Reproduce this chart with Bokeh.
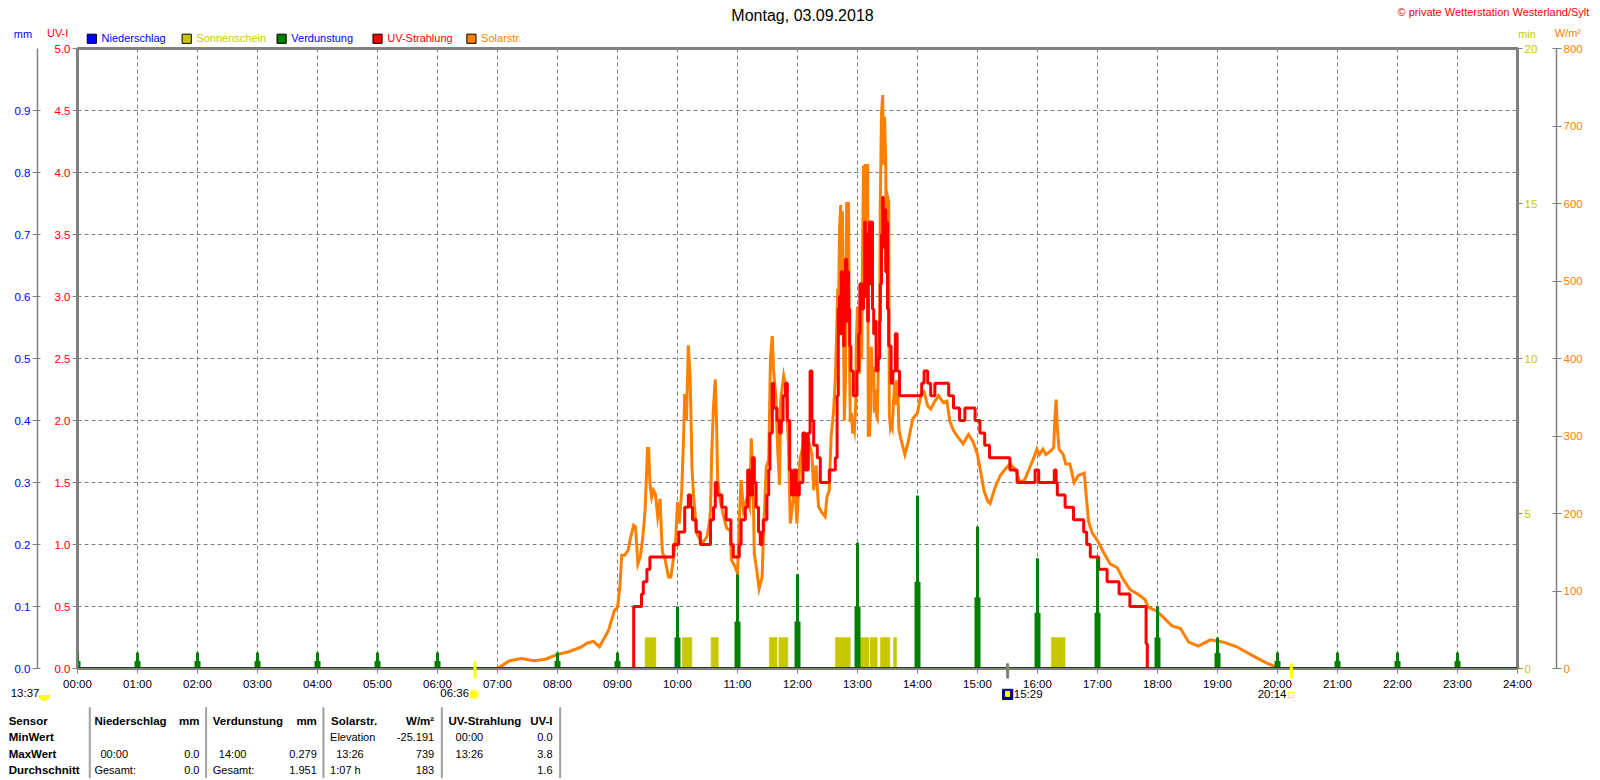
from bokeh.embed import file_html
from bokeh.resources import INLINE
from bokeh.plotting import figure
from bokeh.layouts import column
from bokeh.core.properties import value
from bokeh.models import Range1d, LinearAxis, FixedTicker

# ---------- data ----------
hours = list(range(25))
hour_labels = ["%02d:00" % h for h in hours]

uv_ticks = [0, 0.5, 1, 1.5, 2, 2.5, 3, 3.5, 4, 4.5, 5]
mm_ticks = [0, 0.1, 0.2, 0.3, 0.4, 0.5, 0.6, 0.7, 0.8, 0.9]
min_ticks = [0, 5, 10, 15, 20]
wm2_ticks = [0, 100, 200, 300, 400, 500, 600, 700, 800]

evap_hours = [0, 1, 2, 3, 4, 5, 6, 8, 9, 10, 11, 12, 13, 14, 15, 16, 17, 18, 19, 20, 21, 22, 23]
evap_value = [0.026, 0.026, 0.026, 0.026, 0.026, 0.026, 0.026, 0.026, 0.026, 0.1, 0.152, 0.152,
              0.203, 0.279, 0.229, 0.178, 0.178, 0.1, 0.05, 0.026, 0.026, 0.026, 0.026]
evap_mean = [0.012, 0.012, 0.012, 0.012, 0.012, 0.012, 0.012, 0.012, 0.012, 0.05, 0.076, 0.076,
             0.1, 0.14, 0.115, 0.09, 0.09, 0.05, 0.025, 0.012, 0.012, 0.012, 0.012]

sun_start = [9.46, 10.08, 10.56, 11.53, 11.69, 12.63, 13.02, 13.21, 13.38, 13.6, 16.23]
sun_end = [9.64, 10.24, 10.68, 11.66, 11.84, 12.88, 13.19, 13.33, 13.54, 13.65, 16.46]
sun_min = [1] * 11

rain_hours = [0, 24]
rain_mm = [0, 0]

solar_t_morning = [7.0, 7.1, 7.2, 7.4, 7.6, 7.8, 8.0, 8.2, 8.4, 8.5, 8.6, 8.7, 8.85, 8.95, 9.0, 9.04, 9.07, 9.12, 9.18,
           9.21, 9.27, 9.3, 9.34, 9.38, 9.42, 9.46, 9.5, 9.52, 9.54, 9.57, 9.6, 9.63, 9.67, 9.71, 9.73, 9.75,
           9.79, 9.85, 9.89, 9.93, 9.97, 10.0, 10.03, 10.07, 10.1, 10.12, 10.15, 10.18, 10.21, 10.23, 10.24,
           10.27, 10.32, 10.38, 10.43, 10.49, 10.53, 10.55, 10.57, 10.6, 10.63, 10.65, 10.67, 10.71, 10.77,
           10.82, 10.88, 10.9, 10.96, 11.0, 11.03, 11.06, 11.1, 11.16, 11.2, 11.23, 11.26, 11.28, 11.32,
           11.36, 11.41, 11.43, 11.48, 11.52, 11.55, 11.58, 11.6, 11.64, 11.67, 11.7, 11.72, 11.77, 11.81,
           11.85, 11.88, 11.92, 11.96, 11.99, 12.02, 12.04, 12.1, 12.14, 12.18, 12.24, 12.27, 12.31, 12.35,
           12.4, 12.46, 12.49, 12.53, 12.56, 12.6]
solar_v_morning = [0, 5, 10, 13, 10, 12, 18, 22, 28, 33, 35, 28, 49, 75, 79, 105, 146, 146, 153,
           166, 185, 183, 135, 144, 168, 204, 284, 284, 239, 221, 230, 226, 196, 219, 178, 150,
           142, 118, 118, 140, 166, 215, 187, 228, 295, 354, 320, 417, 376, 307, 260,
           221, 174, 166, 163, 170, 187, 204, 277, 338, 373, 320, 243, 217, 196,
           181, 178, 140, 131, 123, 191, 243, 204, 221, 209, 297, 239, 148, 127,
           103, 118, 166, 260, 269, 402, 429, 385, 350, 282, 237, 346, 378, 363,
           286, 187, 213, 232, 187, 234, 269, 290, 260, 295, 277, 230, 262, 209,
           202, 196, 221, 230, 300, 330]
solar_t_noon = [12.63, 12.65, 12.67, 12.68, 12.7, 12.72, 12.73, 12.75, 12.77, 12.78, 12.8, 12.82, 12.83, 12.85, 12.87,
           12.88, 12.9, 12.92, 12.93, 12.95, 12.97, 12.98, 13.0, 13.02, 13.03, 13.05, 13.07, 13.08, 13.1, 13.12,
           13.13, 13.15, 13.17, 13.18, 13.2, 13.22, 13.23, 13.25, 13.27, 13.28, 13.3, 13.32, 13.33, 13.35, 13.37,
           13.38, 13.4, 13.42, 13.43, 13.45, 13.47, 13.48, 13.5, 13.52, 13.53, 13.55, 13.57, 13.58, 13.6, 13.62,
           13.63, 13.65, 13.67]
solar_v_noon = [372, 424, 490, 440, 566, 598, 480, 590, 415, 320, 372, 602, 500, 602, 372,
           318, 330, 303, 320, 310, 340, 420, 467, 400, 380, 430, 400, 501, 649, 480,
           651, 500, 651, 301, 301, 340, 415, 370, 389, 330, 360, 325, 323, 400, 458,
           600, 716, 740, 650, 712, 656, 520, 609, 602, 329, 310, 315, 312, 345, 368,
           340, 370, 370]
solar_t_after = [13.69, 13.72, 13.79, 13.85, 13.92, 14.0, 14.06, 14.11, 14.17, 14.22,
           14.29, 14.35, 14.43, 14.49, 14.54, 14.6, 14.68, 14.76, 14.85, 14.93, 15.0, 15.06, 15.11, 15.17,
           15.21, 15.29, 15.38, 15.46, 15.54, 15.63, 15.71, 15.79, 15.88, 15.94, 15.99, 16.03, 16.09, 16.14,
           16.21, 16.27, 16.29, 16.31, 16.33, 16.36, 16.43, 16.47, 16.54, 16.61, 16.68, 16.78, 16.81, 16.85,
           16.91, 17.0, 17.1, 17.21, 17.33, 17.43, 17.54, 17.67, 17.79, 17.85, 17.99, 18.1, 18.24, 18.38,
           18.52, 18.68, 18.88, 19.1, 19.32, 19.6, 19.82, 20.0]
solar_v_after = [308, 297, 276, 294, 322, 330, 354, 357, 339, 335,
           345, 352, 343, 345, 319, 307, 298, 290, 302, 292, 276, 251, 229, 216,
           213, 233, 249, 257, 264, 257, 240, 244, 261, 272, 283, 276, 283, 276,
           280, 285, 324, 347, 311, 283, 276, 264, 264, 240, 249, 252, 225, 190,
           175, 165, 150, 135, 130, 115, 102, 96, 89, 79, 74, 66, 55, 52,
           34, 29, 37, 34, 28, 16, 7, 1]

uv_t_morning = [0, 9.24, 9.27, 9.4, 9.43, 9.49, 9.54, 9.93, 10.02, 10.12, 10.18, 10.22, 10.25, 10.31, 10.38, 10.55, 10.57,
        10.6, 10.63, 10.66, 10.74, 10.81, 10.89, 10.93, 11.03, 11.06, 11.13, 11.17, 11.2, 11.25, 11.28, 11.31,
        11.35, 11.38, 11.41, 11.43, 11.49, 11.52, 11.54, 11.58, 11.6, 11.66, 11.7, 11.73, 11.76, 11.8, 11.83,
        11.87, 11.9, 11.94, 11.98, 12.03, 12.09, 12.13, 12.18, 12.21, 12.24, 12.27, 12.33, 12.38, 12.53, 12.6,
        12.63, 12.66, 12.68]
uv_v_morning = [0, 0, 0.5, 0.6, 0.7, 0.8, 0.9, 1.0, 1.1, 1.3, 1.4, 1.3, 1.2, 1.1, 1.0, 1.2, 1.2,
        1.3, 1.5, 1.4, 1.3, 1.2, 1.0, 0.9, 1.0, 1.2, 1.3, 1.6, 1.4, 1.7, 1.5, 1.3,
        1.1, 1.0, 1.1, 1.2, 1.4, 1.6, 1.9, 2.3, 2.1, 2.0, 1.9, 2.0, 2.2, 2.3, 2.0,
        1.6, 1.4, 1.6, 1.4, 1.5, 1.9, 1.6, 1.9, 2.4, 2.0, 1.8, 1.7, 1.5, 1.6, 1.6,
        1.7, 2.2, 2.9]
uv_t_noon = [12.7, 12.72, 12.73, 12.75, 12.77, 12.78, 12.8, 12.82, 12.83, 12.85, 12.87, 12.89, 12.93, 12.99, 13.02,
        13.04, 13.08, 13.1, 13.12, 13.13, 13.15, 13.17, 13.18, 13.2, 13.22, 13.23, 13.25, 13.27, 13.29, 13.31,
        13.34, 13.37, 13.38, 13.4, 13.42, 13.43, 13.45, 13.47, 13.48, 13.5]
uv_v_noon = [3.0, 2.7, 3.2, 2.9, 2.6, 3.0, 3.3, 2.8, 3.2, 2.9, 2.6, 2.4, 2.2, 2.4, 2.7,
        3.1, 2.9, 3.1, 3.6, 3.0, 3.5, 2.8, 3.2, 3.6, 3.1, 3.6, 2.9, 2.7, 2.8, 2.4,
        2.5, 2.8, 3.1, 3.5, 3.8, 3.4, 3.7, 3.2, 3.6, 2.9]
uv_t_after = [13.52, 13.56, 13.59, 13.63, 13.66, 13.7, 13.76, 13.93, 14.07, 14.11, 14.17, 14.22, 14.29, 14.52, 14.6, 14.7,
        14.79, 14.96, 15.04, 15.12, 15.2, 15.54, 15.66, 15.96, 16.02, 16.28, 16.31, 16.33, 16.46, 16.6, 16.77,
        16.82, 16.88, 17.02, 17.16, 17.36, 17.54, 17.81, 17.83]
uv_v_after = [2.6, 2.3, 2.4, 2.7, 2.4, 2.2, 2.2, 2.2, 2.3, 2.4, 2.3, 2.2, 2.3, 2.2, 2.1, 2.0,
        2.1, 2.0, 1.9, 1.8, 1.7, 1.6, 1.5, 1.6, 1.5, 1.6, 1.5, 1.4, 1.3, 1.2, 1.1,
        1.0, 0.9, 0.8, 0.7, 0.6, 0.5, 0.2, 0.0]

legend_names = ["Niederschlag", "Sonnenschein", "Verdunstung", "UV-Strahlung", "Solarstr."]

solar_t = solar_t_morning + solar_t_noon + solar_t_after
solar_v = solar_v_morning + solar_v_noon + solar_v_after
uv_t = uv_t_morning + uv_t_noon + uv_t_after
uv_v = uv_v_morning + uv_v_noon + uv_v_after

# ---------- colours ----------
BLUE, OLIVE, GREEN, RED, ORANGE, GRAY = "#0000ff", "#c8c800", "#008000", "#ff0000", "#ff8000", "#808080"
FONT = "Liberation Sans"

# ---------- main chart ----------
L, T, R, B = 77, 48, 1517, 668
p = figure(width=1600, height=778, output_backend="svg", toolbar_location=None,
           x_range=Range1d(0, 24), y_range=Range1d(0, 5),
           min_border_left=L, min_border_right=1600 - R, min_border_top=T, min_border_bottom=778 - B,
           background_fill_color="white", border_fill_color="white")
p.extra_y_ranges = {"mm": Range1d(0, 1), "min": Range1d(0, 20), "wm2": Range1d(0, 800)}
p.outline_line_color = GRAY
p.outline_line_width = 3


def style(ax, color, size=11.5, line=True):
    ax.major_label_text_color = color
    ax.major_label_text_font = FONT
    ax.major_label_text_font_size = f"{size}px"
    ax.minor_tick_line_color = None
    ax.major_tick_line_color = GRAY
    ax.major_tick_in = 0
    ax.major_tick_out = 5
    ax.axis_line_color = GRAY if line else None
    ax.axis_line_width = 1.5
    ax.major_label_standoff = 2


xax = p.xaxis[0]
xax.ticker = FixedTicker(ticks=hours)
xax.major_label_overrides = {h: s for h, s in zip(hours, hour_labels)}
style(xax, "black")
xax.major_label_standoff = 4

uvax = p.yaxis[0]
uvax.ticker = FixedTicker(ticks=uv_ticks)
uvax.major_label_overrides = {v: "%.1f" % v for v in uv_ticks}
style(uvax, RED)
uvax.axis_label = " "
uvax.axis_label_text_font_size = "1px"
uvax.axis_label_standoff = 10

mmax = LinearAxis(y_range_name="mm", ticker=FixedTicker(ticks=mm_ticks))
mmax.major_label_overrides = {v: "%.1f" % v for v in mm_ticks}
style(mmax, BLUE)
mmax.major_tick_in = 3
p.add_layout(mmax, "left")

minax = LinearAxis(y_range_name="min", ticker=FixedTicker(ticks=min_ticks))
style(minax, OLIVE, line=False)
minax.axis_label = " "
minax.axis_label_text_font_size = "1px"
minax.axis_label_standoff = 12
p.add_layout(minax, "right")

wax = LinearAxis(y_range_name="wm2", ticker=FixedTicker(ticks=wm2_ticks))
style(wax, ORANGE)
wax.major_tick_in = 4
p.add_layout(wax, "right")

for g in (p.xgrid[0], p.ygrid[0]):
    g.grid_line_color = GRAY
    g.grid_line_dash = "4 3"
    g.grid_line_width = 1

p.quad(left=sun_start, right=sun_end, bottom=0, top=sun_min, y_range_name="min",
       fill_color=OLIVE, line_color=OLIVE, line_width=0.5)
p.line(solar_t, solar_v, y_range_name="wm2", line_color=ORANGE, line_width=3, line_join="miter")
p.step(uv_t, uv_v, mode="after", line_color=RED, line_width=3)
p.segment(evap_hours, 0, evap_hours, evap_value, y_range_name="mm", line_color=GREEN, line_width=3)
p.segment(evap_hours, 0, evap_hours, evap_mean, y_range_name="mm", line_color=GREEN, line_width=6)
p.line(rain_hours, rain_mm, y_range_name="mm", line_color="#0000c8", line_width=3)

# ---------- transparent page-sized overlay for the texts around the chart ----------
q = figure(width=1600, height=778, output_backend="svg", toolbar_location=None,
           x_range=Range1d(0, 1568), y_range=Range1d(762.4, 0),
           x_axis_type=None, y_axis_type=None, min_border=0,
           background_fill_color=None, border_fill_color=None, outline_line_color=None)
q.xgrid.visible = False
q.ygrid.visible = False


def txt(px, py, s, color="black", size=11, bold=False, align="left"):
    q.text([px], [py], text=[s], text_color=color, text_font=value(FONT), text_font_size=value(f"{size}px"),
           text_font_style="bold" if bold else "normal", text_align=align, text_baseline="middle")


def box(x0, y0, x1, y1, color, line=None):
    q.quad(left=[x0], right=[x1], top=[y0], bottom=[y1], fill_color=color, line_color=line or color, line_width=1)


txt(786, 15, "Montag, 03.09.2018", size=16, align="center")
txt(1557, 11, "\u00a9 private Wetterstation Westerland/Sylt", RED, size=11, align="right")
txt(22, 33, "mm", BLUE, align="center")
txt(56, 32, "UV-I", RED, align="center")
txt(1496, 33, "min", OLIVE, align="center")
txt(1536, 32, "W/m\u00b2", ORANGE, align="center")

leg_x = [85, 178, 271, 365, 457]
leg_fill = [BLUE, OLIVE, GREEN, RED, ORANGE]
leg_text = [BLUE, OLIVE, BLUE, RED, ORANGE]
for x, f, c, n in zip(leg_x, leg_fill, leg_text, legend_names):
    box(x, 33, x + 9, 42, f, "black")
    txt(x + 14, 37, n, c)

# sunrise, culmination and sunset marks
box(464, 648, 466, 664, "#ffff00")
box(1264, 650, 1266, 664, "#ffff00")
box(986, 650, 988, 664, GRAY)
txt(10, 679, "13:37", size=11.5)
q.wedge([43], [681], radius=5, start_angle=0, end_angle=3.1416, direction="clock", fill_color="#ffff00", line_color="#ffff00")
txt(431, 679, "06:36", size=11.5)
q.scatter([464], [680], size=9, marker="circle", fill_color="#ffff00", line_color="#ffff80", line_width=2)
txt(993, 680, "15:29", size=11.5)
box(982, 675, 992, 685, "#000080")
box(985, 677, 989, 682, "#ffff00")
txt(1232, 680, "20:14", size=11.5)
box(1262, 678, 1267, 683, "white", "#ffff00")

# statistics table
for x in [87, 201, 316, 432, 548]:
    box(x, 693, x + 1, 762, "#a0a0a0")
rows = {"Sensor": 706, "MinWert": 722, "MaxWert": 738, "Durchschnitt": 754}
for s, y in rows.items():
    txt(8, y, s, bold=True, size=11.5)
for x, s, a in [(92, "Niederschlag", "left"), (195, "mm", "right"), (208, "Verdunstung", "left"),
                (310, "mm", "right"), (324, "Solarstr.", "left"), (425, "W/m\u00b2", "right"),
                (439, "UV-Strahlung", "left"), (541, "UV-I", "right")]:
    txt(x, 706, s, bold=True, size=11.5, align=a)
cells = [(323, 722, "Elevation", "left"), (425, 722, "-25.191", "right"), (446, 722, "00:00", "left"),
         (541, 722, "0.0", "right"),
         (98, 738, "00:00", "left"), (195, 738, "0.0", "right"), (214, 738, "14:00", "left"),
         (310, 738, "0.279", "right"), (329, 738, "13:26", "left"), (425, 738, "739", "right"),
         (446, 738, "13:26", "left"), (541, 738, "3.8", "right"),
         (92, 754, "Gesamt:", "left"), (195, 754, "0.0", "right"), (208, 754, "Gesamt:", "left"),
         (310, 754, "1.951", "right"), (323, 754, "1:07 h", "left"), (425, 754, "183", "right"),
         (541, 754, "1.6", "right")]
for x, y, s, a in cells:
    txt(x, y, s, size=11, align=a)

# the inner column keeps the overlay out of the frame alignment of the outer one
overlay = column(q, styles={"position": "absolute", "top": "0px", "left": "0px"})
open("out.html", "w").write(file_html(column(p, overlay), INLINE))
